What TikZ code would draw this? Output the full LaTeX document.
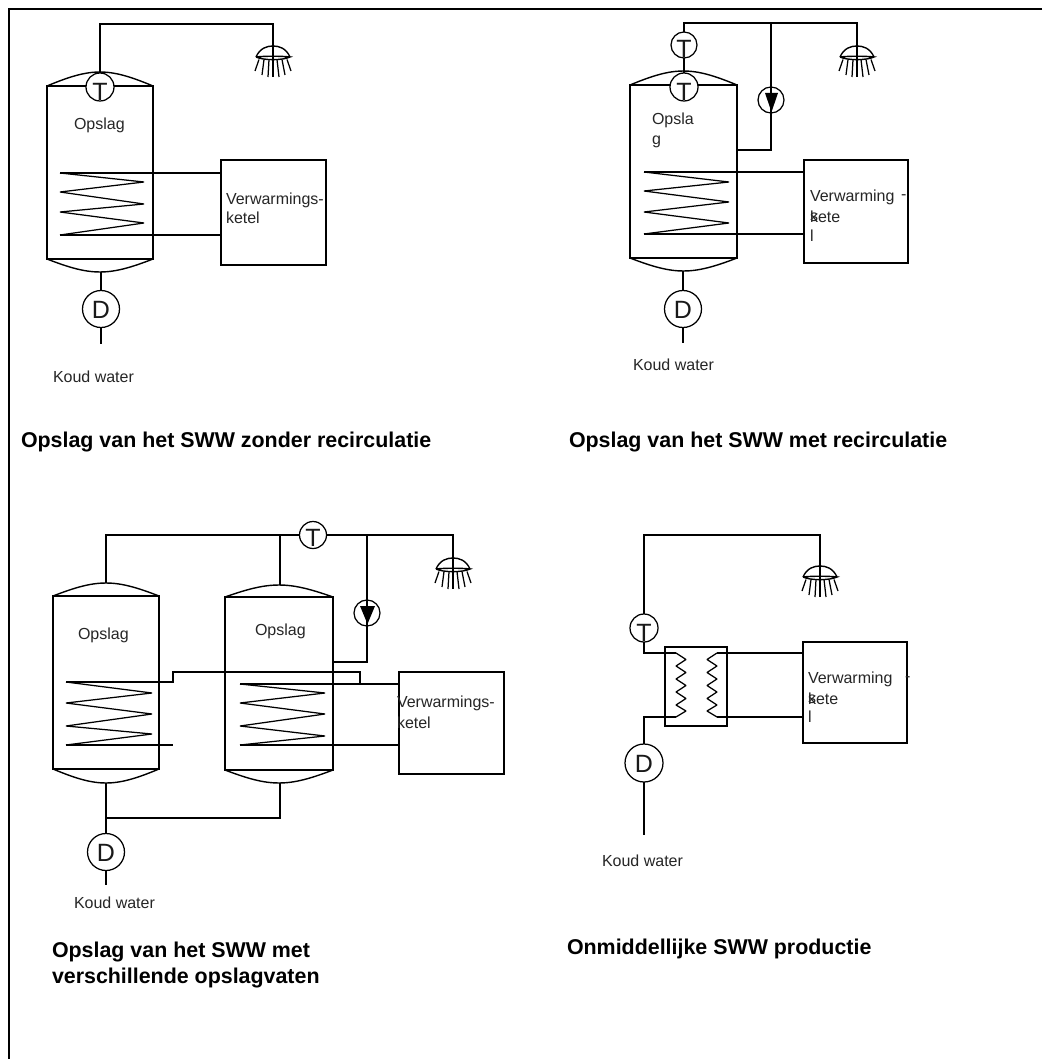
\documentclass[tikz,border=0pt]{standalone}
\usepackage{fontspec}
\setmainfont{Liberation Sans}
\newcommand{\txtfont}{\fontsize{16}{18}\selectfont}
\newcommand{\ttlfont}{\fontsize{21.4}{25}\selectfont\bfseries}
\newcommand{\symfont}{\fontsize{25}{28}\selectfont}
\tikzset{
  pipe/.style={line width=1.4pt,line join=miter},
  lbl/.style={anchor=west,inner sep=0pt,outer sep=0pt,font=\txtfont,text=black!85},
  ttl/.style={anchor=west,inner sep=0pt,outer sep=0pt,font=\ttlfont,text=black},
  sym/.style={inner sep=0pt,outer sep=0pt,font=\symfont,text=black!90},
  gaugecirc/.style={circle,draw,fill=white,line width=1.25pt,inner sep=0pt,outer sep=0pt},
  rectbox/.style={rectangle,draw,line width=1.4pt,inner sep=0pt,outer sep=0pt},
}
% name, left, top, right, bottom, top peak, bottom peak
\newcommand{\tankshape}[7]{%
  \node[rectbox,minimum width={(#4-#2)*1pt},minimum height={(#5-#3)*1pt}] (#1) at ({(#2+#4)/2},{(#3+#5)/2}) {};
  \coordinate (#1top) at ({(#2+#4)/2},#6);
  \coordinate (#1bot) at ({(#2+#4)/2},#7);
  \draw[pipe] (#2,#3) .. controls ({#2+0.42*(#4-#2)},{#3+(#6-#3)*4/3}) and ({#2+0.58*(#4-#2)},{#3+(#6-#3)*4/3}) .. (#4,#3);
  \draw[pipe] (#2,#5) .. controls ({#2+0.42*(#4-#2)},{#5+(#7-#5)*4/3}) and ({#2+0.58*(#4-#2)},{#5+(#7-#5)*4/3}) .. (#4,#5);
}
% name, x, y, letter, radius, letter shift
\newcommand{\gauge}[6]{%
  \node[gaugecirc,minimum size={2*#5*1pt}] (#1) at (#2,#3) {};
  \node[sym] (#1l) at (#2,{#3+#6}) {#4};
}
% name, x, y of pipe end
\newcommand{\shower}[3]{%
  \coordinate (#1) at (#2,#3);
  \begin{scope}[shift={(#2,#3)}]
    \draw[pipe] (-17,11) .. controls (-13,2) and (-6,0) .. (0,0) .. controls (6,0) and (13,2) .. (17,11);
    \draw[pipe] (-17,11) .. controls (-10,14.5) and (10,14.5) .. (17,11) .. controls (10,10) and (-10,10) .. (-17,11);
    \draw[line width=1.25pt] (0,0) -- (0,16);
    \foreach \xa/\xb/\yb in {-14/-18/25,-9/-11/29,-4/-5/31,0/0/31,4/6/31,9/12/29,14/18/25}
      \draw[line width=1.25pt] (\xa,13.5) -- (\xb,\yb);
  \end{scope}
}
% x left, x right, seven y values
\newcommand{\coil}[9]{%
  \draw[line width=1.25pt,line join=bevel] (#1,#3) -- (#2,#4) -- (#1,#5) -- (#2,#6) -- (#1,#7) -- (#2,#8) -- (#1,#9);
}
\begin{document}
\begin{tikzpicture}[x=1pt,y=-1pt]
\useasboundingbox (0,0) rectangle (1042,1059);
\fill[white] (0,0) rectangle (1042,1059);
% frame
\coordinate (frameTR) at (1042,9);
\coordinate (frameTL) at (9,9);
\coordinate (frameBL) at (9,1059);
\draw[line width=1.6pt] (frameTR) -- (frameTL) -- (frameBL);

%%%%% Diagram 1
\tankshape{tA}{47}{86}{153}{259}{72}{272}
\coil{60}{144}{173}{182}{192}{204}{212}{223}{235}
\node[rectbox,minimum width=105pt,minimum height=105pt] (bA) at (273.5,212.5) {};
\gauge{gtA}{100}{87}{T}{14}{5}
\gauge{gdA}{101}{309}{D}{18.5}{1}
\shower{sA}{273}{46}
\coordinate (endA) at (101,344);
\coordinate (c1A) at (60,173);
\coordinate (c2A) at (60,235);
\draw[pipe] (gtA.north) -- (100,24) -- (273,24) -- (sA);
\draw[pipe] (c1A) -- (c1A -| bA.west);
\draw[pipe] (c2A) -- (c2A -| bA.west);
\draw[pipe] (tAbot -| gdA) -- (gdA.north);
\draw[pipe] (gdA.south) -- (endA);
\node[lbl] (oA) at (74,125) {Opslag};
\node[lbl] (vA) at (226,200) {Verwarmings-};
\node[lbl] (kA) at (226,218) {ketel};
\node[lbl] (wA) at (53,377) {Koud water};
\node[ttl] (ttlA) at (21,442) {Opslag van het SWW zonder recirculatie};

%%%%% Diagram 2
\tankshape{tB}{630}{85}{737}{258}{71}{271}
\coil{644}{729}{172}{182}{191}{202}{212}{223}{234}
\node[rectbox,minimum width=104pt,minimum height=103pt] (bB) at (856,211.5) {};
\gauge{gtB}{684}{87}{T}{14}{5}
\gauge{guB}{684}{45}{T}{13}{4}
\gauge{gdB}{683}{309}{D}{18.5}{1}
\node[gaugecirc,minimum size=26pt] (pB) at (771,100) {};
\shower{sB}{857}{46}
\coordinate (endB) at (683,343);
\coordinate (c1B) at (644,172);
\coordinate (c2B) at (644,234);
\coordinate (jB) at (771,23);
\coordinate (rB) at (737,150);
\draw[pipe] (gtB.north) -- (guB.south);
\draw[pipe] (guB.north) -- (684,23) -- (857,23) -- (sB);
\draw[pipe] (jB) -- (771,150) -- (rB);
\fill (765,93) -- (778,93) -- (771.5,112) -- cycle;
\draw[pipe] (c1B) -- (c1B -| bB.west);
\draw[pipe] (c2B) -- (c2B -| bB.west);
\draw[pipe] (tBbot -| gdB) -- (gdB.north);
\draw[pipe] (gdB.south) -- (endB);
\node[lbl] (oB) at (652,120) {Opsla};
\node[lbl] (oB2) at (652,142) {g};
\node[lbl] (vB) at (810,197) {Verwarming};
\node[lbl] (dB) at (901,197) {-};
\node[lbl] (kB) at (810,217) {kete};
\node[lbl] (ksB) at (810,217) {s};
\node[lbl] (lB) at (810,236) {l};
\node[lbl] (wB) at (633,365) {Koud water};
\node[ttl] (ttlB) at (569,442) {Opslag van het SWW met recirculatie};

%%%%% Diagram 3
\tankshape{tC}{53}{596}{159}{769}{583}{783}
\tankshape{tD}{225}{597}{333}{770}{585}{783}
\coil{66}{152}{682}{693}{703}{714}{726}{734}{745}
\coil{240}{325}{684}{693}{703}{714}{726}{736}{745}
\node[rectbox,minimum width=105pt,minimum height=102pt] (bC) at (451.5,723) {};
\gauge{gtC}{313}{535}{T}{13.5}{3}
\gauge{gdC}{106}{852}{D}{18.5}{1}
\node[gaugecirc,minimum size=26pt] (pC) at (367,613) {};
\shower{sC}{453}{558}
\coordinate (endC) at (106,885);
\coordinate (c1C) at (66,682);
\coordinate (c2C) at (66,745);
\coordinate (c3C) at (240,684);
\coordinate (c4C) at (240,745);
\coordinate (c2Cend) at (173,745);
\coordinate (jC) at (367,535);
\coordinate (rC) at (333,662);
\coordinate (dTop) at (280,585);
\coordinate (dBot) at (280,783);
\draw[pipe] (tCtop) -- (106,535) -- (gtC.west);
\draw[pipe] (dTop) -- (280,535);
\draw[pipe] (gtC.east) -- (453,535) -- (sC);
\draw[pipe] (jC) -- (367,662) -- (rC);
\fill (360,606) -- (375,606) -- (367.5,624) -- cycle;
\draw[pipe] (c1C) -- (173,682) -- (173,672) -- (360,672) -- (360,684);
\draw[pipe] (c2C) -- (c2Cend);
\draw[pipe] (c3C) -- (c3C -| bC.west);
\draw[pipe] (c4C) -- (c4C -| bC.west);
\draw[pipe] (tCbot) -- (gdC.north);
\draw[pipe] (dBot) -- (280,818) -- (106,818);
\draw[pipe] (gdC.south) -- (endC);
\node[lbl] (oC) at (78,635) {Opslag};
\node[lbl] (oD) at (255,631) {Opslag};
\node[lbl] (vC) at (397,703) {Verwarmings-};
\node[lbl] (kC) at (397,723) {ketel};
\node[lbl] (wC) at (74,903) {Koud water};
\node[ttl] (ttlC1) at (52,952) {Opslag van het SWW met};
\node[ttl] (ttlC2) at (52,978) {verschillende opslagvaten};

%%%%% Diagram 4
\node[rectbox,minimum width=62pt,minimum height=79pt] (hx) at (696,686.5) {};
\node[rectbox,minimum width=104pt,minimum height=101pt] (bE) at (855,692.5) {};
\gauge{gtE}{644}{628}{T}{14}{5}
\gauge{gdE}{644}{763}{D}{19}{1}
\shower{sE}{820}{566}
\coordinate (endE) at (644,835);
\coordinate (zl1) at (676,653);
\coordinate (zl2) at (676,717);
\coordinate (zr1) at (717,653);
\coordinate (zr2) at (717,717);
\draw[pipe] (gtE.north) -- (644,535) -- (820,535) -- (sE);
\draw[pipe] (gtE.south) -- (644,653) -- (zl1);
\draw[pipe] (gdE.north) -- (644,717) -- (zl2);
\draw[pipe] (gdE.south) -- (endE);
\draw[pipe] (zr1) -- (zr1 -| bE.west);
\draw[pipe] (zr2) -- (zr2 -| bE.west);
\draw[line width=1.25pt,line join=bevel] (zl1) -- (686,659.5) -- (676,666) -- (686,672.5) -- (676,679) -- (686,685.5) -- (676,692) -- (686,698.5) -- (676,705) -- (686,711) -- (zl2);
\draw[line width=1.25pt,line join=bevel] (zr1) -- (707,659.5) -- (717,666) -- (707,672.5) -- (717,679) -- (707,685.5) -- (717,692) -- (707,698.5) -- (717,705) -- (707,711) -- (zr2);
\node[lbl] (vE) at (808,679) {Verwarming};
\node[lbl] (dE) at (905,679) {-};
\node[lbl] (kE) at (808,699) {kete};
\node[lbl] (ksE) at (808,699) {s};
\node[lbl] (lE) at (808,717) {l};
\node[lbl] (wE) at (602,861) {Koud water};
\node[ttl] (ttlE) at (567,949) {Onmiddellijke SWW productie};
\end{tikzpicture}
\end{document}
